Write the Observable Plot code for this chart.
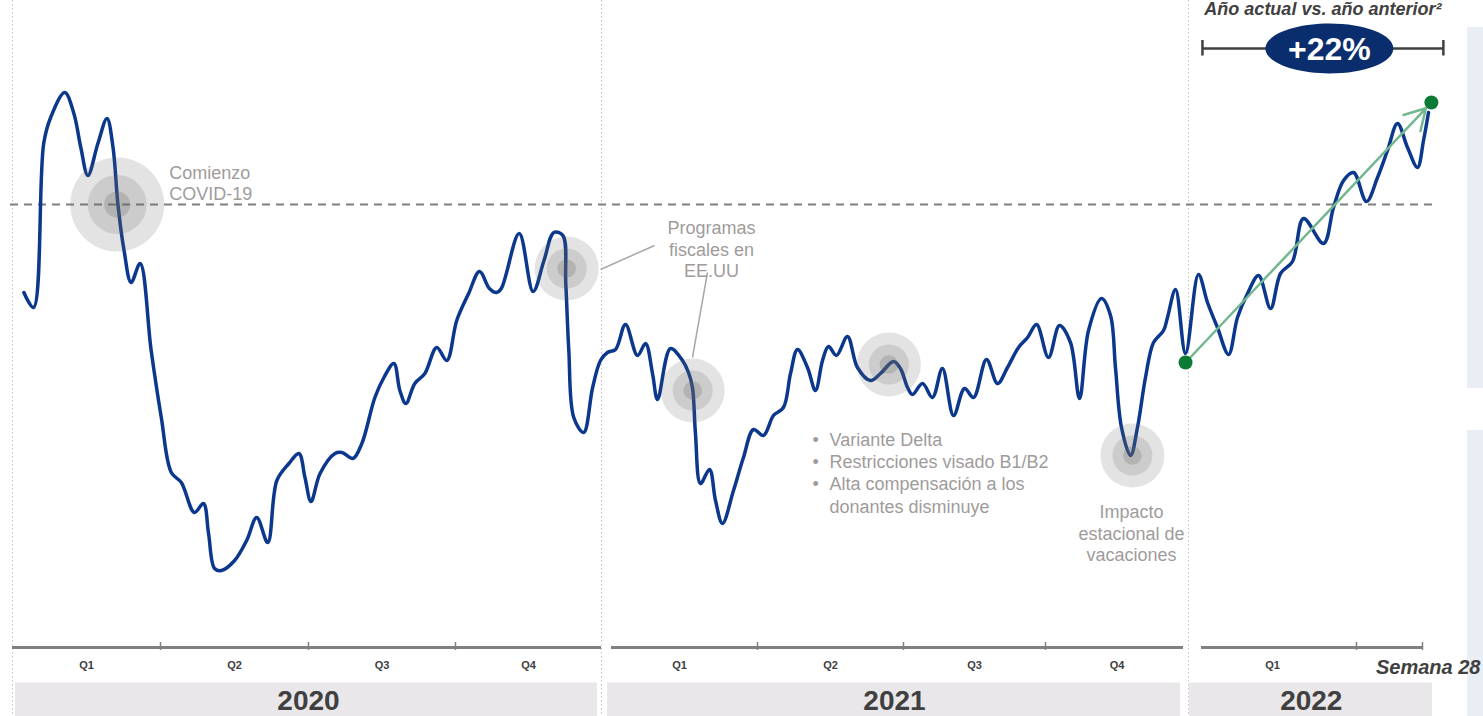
<!DOCTYPE html>
<html><head><meta charset="utf-8">
<script src="https://cdn.jsdelivr.net/npm/d3@7"></script>
<script src="https://cdn.jsdelivr.net/npm/@observablehq/plot@0.6"></script>
<style>
html,body{margin:0;padding:0;background:#fff;}
#wrap{position:relative;width:1483px;height:716px;overflow:hidden;}
#wrap svg{display:block;background:transparent;}
.panel{position:absolute;left:1467px;width:16px;background:#e9edf4;}
</style></head><body><div id="wrap"><div class="panel" style="top:27px;height:361px"></div><div class="panel" style="top:430px;height:286px"></div><div id="chart" style="position:relative"></div></div>
<script>
// ---------- data ----------
const years = ["2020", "2021", "2022"];
const yearStartWeek = [0, 52, 104];
const yearEndWeek = [52, 104, 132];
const yearWeeks = [52, 52, 28];
const yearLabelWeek = [26, 77.2, 113.5];
const quarterLabels = ["Q1","Q2","Q3","Q4","Q1","Q2","Q3","Q4","Q1"];
const quarterMidWeek = [6.5,19.5,32.5,45.5,58.5,71.5,84.5,97.5,110.5];
const quarterTickWeek = [13,26,39,65,78,91,117];
const baseline = 100;

const weeks2020 = [1.0,1.85,2.74,3.35,4.59,5.39,6.0,6.62,7.5,8.3,8.83,9.27,9.8,10.42,11.21,12.18,13.07,13.95,14.83,15.98,16.77,17.22,17.75,18.36,19.51,20.57,21.45,22.42,23.22,24.28,25.16,25.69,26.22,27.02,28.34,28.96,29.93,30.72,31.87,32.67,33.55,34.08,34.61,35.4,36.29,37.34,38.23,39.11,40.17,41.14,42.02,42.64,43.08,44.67,45.91,46.88,47.76,48.56,48.82,49.09,49.53,50.41,51.21,51.91];
const values2020 = [82.4,79.4,112.2,117.4,122.4,118.2,111.4,105.8,112.2,117.2,111.4,99.8,90.8,84.4,88.2,70.8,57.4,46.4,44.4,38.4,40.2,34.2,27.2,26.8,28.8,32.8,37.4,32.4,44.8,48.2,50.2,45.4,40.6,46.2,50.2,50.4,49.2,52.2,61.4,65.4,68.2,62.8,60.2,64.2,66.2,71.4,68.8,76.8,82.2,86.6,83.2,82.4,83.2,94.2,82.6,88.8,94.4,93.8,84.2,70.8,57.4,54.4,63.4,68.8];
const weeks2021 = [52.5,53.17,54.0,55.0,55.67,56.25,56.67,57.75,58.75,59.25,59.58,59.83,60.25,61.0,61.5,62.08,63.0,63.83,64.67,65.53,66.42,67.31,67.94,68.56,69.45,70.16,70.79,71.32,72.03,73.01,73.9,75.06,75.95,77.11,77.73,78.37,78.82,79.74,80.65,81.56,82.58,83.59,84.41,85.6,86.61,87.52,88.53,89.36,90.18,91.27,92.27,93.27,94.09,94.91,96.09,96.91,97.36,97.91,98.73,99.36,100.09,100.82,101.73,102.09,102.82,103.73];
const values2021 = [70.4,71.0,76.0,69.8,72.2,66.2,61.0,71.2,68.8,66.4,63.4,54.2,44.2,47.0,40.8,36.2,42.8,49.4,55.0,53.8,57.8,59.4,66.2,71.0,67.4,62.8,68.8,71.6,69.8,73.6,67.4,64.8,66.2,68.6,67.2,63.4,62.0,64.2,61.4,67.2,57.8,63.2,61.4,69.0,64.2,67.4,71.4,73.4,76.0,69.4,75.8,72.4,61.2,74.8,81.2,77.8,67.4,55.4,49.8,55.4,65.4,72.4,74.8,77.4,83.0,70.2];
const weeks2022 = [104.77,105.47,106.24,107.1,107.79,108.57,109.42,110.35,111.12,112.05,112.9,114.45,115.22,116.0,116.77,119.08,121.38,123.46,125.54,127.63,129.71,130.96,132.0];
const values2022 = [86.0,80.4,75.4,70.0,77.4,82.2,85.8,79.2,86.2,88.6,97.2,92.2,99.4,104.8,106.4,100.6,105.4,110.8,116.2,111.4,107.4,112.8,118.4];

const trendWeeks = [103.73, 132.6];
const trendValues = [68.4, 120.4];
const yoyLabel = "+22%";
const yoyWeeks = [105.08, 135.1];
const yoyCenterWeek = 114.9;
const yoyLevel = 131.2;
const yoyTickValues = [132.9, 129.8];
const subtitle = "Año actual vs. año anterior²";
const subtitleWeek = 114.4;

const eventWeeks = [9.2, 48.9, 59.6, 76.7, 98.9];
const eventValues = [100, 87.2, 62.8, 68, 49.8];
const eventMajor = [true, false, false, false, false];

const leaderWeeks1 = [51.91, 59.58], leaderValues1 = [87, 69.4];
const leaderWeeks2 = [56.42, 60.83], leaderValues2 = [91.8, 86.4];

const noteTexts = ["Comienzo\nCOVID-19", "Programas\nfiscales en\nEE.UU", "Variante Delta\nRestricciones visado B1/B2\nAlta compensación a los\ndonantes disminuye", "Impacto\nestacional de\nvacaciones"];
const noteWeeks = [13.77, 61.17, 71.41, 98.82];
const noteValues = [104.3, 91.2, 46.5, 34.4];
const bulletWeek = 69.9;

// ---------- build ----------
const series = [];
[[weeks2020, values2020], [weeks2021, values2021], [weeks2022, values2022]].forEach(([w, v]) => {
  w.forEach((wk, i) => series.push({week: wk, value: v[i]}));
});

const FONT = "Liberation Sans, Arial, Helvetica, sans-serif";
const GREY = "#a09b9b";
const DARK = "#404040";

const xOpts = {
  type: "linear",
  domain: [0, 13, 26, 39, 52, 65, 78, 91, 104, 117, 132],
  range: [12, 160, 308, 455, 601, 757, 903, 1045, 1188, 1356, 1428],
  axis: null
};

const ellipse = {
  draw(ctx) {
    const rx = 64, ry = 25, k = 0.5523;
    ctx.moveTo(rx, 0);
    ctx.bezierCurveTo(rx, ry * k, rx * k, ry, 0, ry);
    ctx.bezierCurveTo(-rx * k, ry, -rx, ry * k, -rx, 0);
    ctx.bezierCurveTo(-rx, -ry * k, -rx * k, -ry, 0, -ry);
    ctx.bezierCurveTo(rx * k, -ry, rx, -ry * k, rx, 0);
    ctx.closePath();
  }
};

const events = eventWeeks.map((w, i) => ({week: w, value: eventValues[i], major: eventMajor[i]}));
const major = events.filter(d => d.major), minor = events.filter(d => !d.major);
const circleLayers = (data, radii) => radii.map((r, j) => Plot.dot(data, {
  x: "week", y: "value", r, fill: "#666", fillOpacity: [0.18, 0.18, 0.25][j], stroke: "none"
}));

const note = (i, opts) => Plot.text([noteTexts[i]], {
  x: () => noteWeeks[i], y: () => noteValues[i], fill: GREY, fontFamily: FONT, fontSize: 18, ...opts
});

const main = Plot.plot({
  width: 1483, height: 640, margin: 0,
  style: {background: "transparent", overflow: "visible"},
  x: xOpts,
  y: {domain: [20, 130], range: [604, 54], axis: null},
  marks: [
    Plot.ruleX(yearStartWeek, {x: d => d, stroke: "#c2c2c2", strokeWidth: 1, strokeDasharray: "1.5,2.5"}),
    Plot.ruleY([baseline], {stroke: "#7f7f7f", strokeWidth: 2, strokeDasharray: "8,6", insetLeft: 10, insetRight: 50}),
    Plot.line(series, {x: "week", y: "value", curve: "catmull-rom", stroke: "#0b388c", strokeWidth: 3.5, strokeLinejoin: "round", strokeLinecap: "round"}),
    ...circleLayers(major, [47, 29.5, 13]),
    ...circleLayers(minor, [32, 20, 9.3]),
    Plot.link(leaderWeeks1, {
      x1: d => d, y1: (d, i) => leaderValues1[i], x2: (d, i) => leaderWeeks2[i], y2: (d, i) => leaderValues2[i],
      stroke: "#a8a8a8", strokeWidth: 1.5
    }),
    Plot.arrow([0], {
      x1: () => trendWeeks[0], y1: () => trendValues[0], x2: () => trendWeeks[1], y2: () => trendValues[1],
      stroke: "#72b790", strokeWidth: 2.5, headLength: 14, insetEnd: 8
    }),
    Plot.dot(trendWeeks, {x: d => d, y: (d, i) => trendValues[i], r: 7, fill: "#0b7a35", stroke: "none"}),
    note(0, {textAnchor: "start", lineHeight: 1.17}),
    note(1, {textAnchor: "middle", lineHeight: 1.22}),
    note(2, {textAnchor: "start", lineHeight: 1.24}),
    Plot.text(["•\n•\n•\n "], {x: () => bulletWeek, y: () => noteValues[2], fill: GREY, fontFamily: FONT, fontSize: 18, lineHeight: 1.24, textAnchor: "start"}),
    note(3, {textAnchor: "middle", lineHeight: 1.22}),
    // year-over-year bracket
    Plot.ruleY([yoyLevel], {x1: () => yoyWeeks[0], x2: () => yoyWeeks[1], stroke: "#404040", strokeWidth: 2.5}),
    Plot.link(yoyWeeks, {x1: d => d, x2: d => d, y1: () => yoyTickValues[0], y2: () => yoyTickValues[1], stroke: "#404040", strokeWidth: 2.5}),
    Plot.dot([yoyLabel], {x: () => yoyCenterWeek, y: () => yoyLevel, symbol: ellipse, fill: "#0a2d6e", stroke: "none"}),
    Plot.text([yoyLabel], {x: () => yoyCenterWeek, y: () => yoyLevel, fill: "white", fontFamily: FONT, fontSize: 32, fontWeight: "bold", dy: 1}),
    Plot.text([subtitle], {x: () => subtitleWeek, frameAnchor: "top", lineAnchor: "bottom", dy: 14, fill: DARK, fontFamily: FONT, fontSize: 18, fontWeight: "bold", fontStyle: "italic"})
  ]
});

const axisInsetL = [0, 10, 13], axisInsetR = [0, 5, 6];
const bandInsetL = [3, 6, 1], bandInsetR = [4, 8, -4];

const strip = Plot.plot({
  width: 1483, height: 76, margin: 0,
  style: {background: "transparent", overflow: "visible"},
  x: xOpts,
  y: {type: "point", domain: ["axis", "quarter", "year"], range: [6, 59], padding: 0, axis: null},
  marks: [
    Plot.ruleX(yearStartWeek, {x: d => d, stroke: "#c2c2c2", strokeWidth: 1, strokeDasharray: "1.5,2.5"}),
    ...years.map((yr, i) => Plot.ruleY([yr], {
      x1: () => yearStartWeek[i], x2: () => yearEndWeek[i], y: () => "year",
      stroke: "#e9e7e9", strokeWidth: 34, insetLeft: bandInsetL[i], insetRight: bandInsetR[i]
    })),
    ...years.map((yr, i) => Plot.ruleY([yr], {
      x1: () => yearStartWeek[i], x2: () => yearEndWeek[i], y: () => "axis",
      stroke: "#808080", strokeWidth: 3, insetLeft: axisInsetL[i], insetRight: axisInsetR[i]
    })),
    Plot.ruleX(quarterTickWeek, {x: d => d, insetTop: 2, insetBottom: 66, stroke: "#808080", strokeWidth: 1.5}),
    Plot.ruleX([yearEndWeek[2]], {x: d => d, dx: -6, insetTop: 2, insetBottom: 66, stroke: "#808080", strokeWidth: 1.5}),
    Plot.text(quarterLabels, {x: (d, i) => quarterMidWeek[i], y: () => "quarter", dy: -8.5, fill: DARK, fontFamily: FONT, fontSize: 11, fontWeight: "bold"}),
    Plot.text(years, {x: (d, i) => yearLabelWeek[i], y: () => "year", dy: 2, fill: DARK, fontFamily: FONT, fontSize: 28, fontWeight: "bold"}),
    Plot.text([`Semana ${yearWeeks[2]}`], {x: () => yearEndWeek[2], y: () => "quarter", textAnchor: "end", lineAnchor: "bottom", dx: 52, dy: 0.5, fill: DARK, fontFamily: FONT, fontSize: 20, fontWeight: "bold", fontStyle: "italic"})
  ]
});

const c = document.getElementById("chart");
c.appendChild(main);
c.appendChild(strip);
</script>
</body></html>
